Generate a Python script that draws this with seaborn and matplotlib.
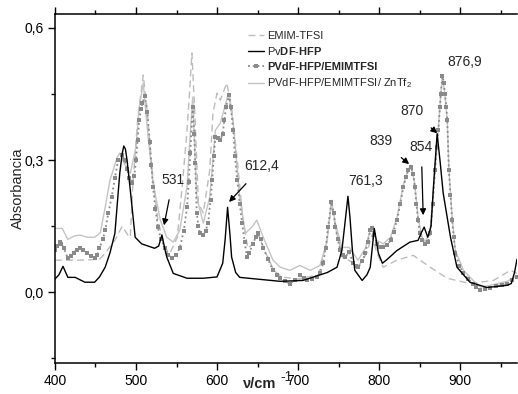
import matplotlib
matplotlib.use("Agg")
import matplotlib.pyplot as plt
import seaborn as sns
from matplotlib.ticker import MultipleLocator

# EMIM-TFSI (dashed)
x_emim = [400, 430, 455, 462, 474, 483, 490, 493, 496, 502, 509, 514, 520, 527, 536, 542,
          551, 557, 563, 566, 569, 573, 577, 583, 591, 595, 600, 604, 612, 618, 625, 632,
          638, 644, 651, 660, 670, 680, 700, 725, 735, 741, 747, 755, 765, 775, 785, 791,
          797, 805, 822, 842, 863, 884, 912, 941, 962, 970]
y_emim = [0.073, 0.073, 0.075, 0.089, 0.118, 0.15, 0.13, 0.125, 0.24, 0.39, 0.493, 0.407,
          0.277, 0.164, 0.1, 0.089, 0.125, 0.24, 0.368, 0.45, 0.543, 0.39, 0.202, 0.18,
          0.277, 0.407, 0.452, 0.436, 0.475, 0.42, 0.3, 0.164, 0.1, 0.11, 0.13, 0.09, 0.05,
          0.035, 0.03, 0.04, 0.11, 0.2, 0.14, 0.08, 0.07, 0.06, 0.09, 0.13, 0.09, 0.057,
          0.073, 0.084, 0.057, 0.032, 0.02, 0.027, 0.05, 0.043]

# PVdF-HFP (black)
x_pvdf = [400, 405, 410, 416, 425, 437, 449, 455, 462, 468, 474, 480, 483, 485, 487, 489,
          493, 499, 507, 515, 523, 528, 532, 536, 538, 546, 563, 583, 600, 607, 610, 613,
          616, 618, 623, 628, 650, 678, 706, 736, 748, 754, 758, 761.5, 764, 767, 770, 779,
          785, 789, 794, 799, 804, 810, 822, 838, 848, 852, 855.5, 860, 864, 867, 871.5,
          875, 879, 888, 896, 912, 933, 958, 963, 967, 970]
y_pvdf = [0.03, 0.04, 0.059, 0.034, 0.034, 0.023, 0.023, 0.035, 0.057, 0.09, 0.134, 0.27,
          0.315, 0.332, 0.325, 0.3, 0.232, 0.125, 0.11, 0.105, 0.1, 0.105, 0.13, 0.095,
          0.08, 0.043, 0.032, 0.032, 0.035, 0.066, 0.12, 0.193, 0.13, 0.08, 0.045, 0.034,
          0.03, 0.025, 0.027, 0.045, 0.057, 0.095, 0.16, 0.218, 0.17, 0.095, 0.05, 0.027,
          0.04, 0.057, 0.145, 0.089, 0.066, 0.075, 0.095, 0.114, 0.118, 0.135, 0.148, 0.125,
          0.15, 0.24, 0.36, 0.3, 0.225, 0.125, 0.057, 0.023, 0.011, 0.016, 0.02, 0.045, 0.075]

# PVdF-HFP/EMIMTFSI (dotted with squares)
x_gel = [400, 403, 406, 408, 411, 416, 420, 423, 427, 431, 435, 440, 445, 449, 452, 455,
         459, 462, 466, 470, 474, 478, 483, 486, 489, 492, 495, 498, 500, 502, 504, 506,
         508, 511, 514, 517, 519, 521, 524, 527, 531, 536, 540, 544, 549, 554, 559, 563,
         565, 567, 570, 572, 573, 575, 577, 579, 583, 586, 589, 592, 594, 596, 598, 601,
         604, 607, 609, 611, 615, 617, 620, 622, 625, 628, 631, 634, 637, 640, 644, 648,
         651, 654, 657, 663, 669, 674, 678, 684, 690, 696, 702, 707, 711, 717, 723, 727,
         731, 734, 737, 741, 744, 746, 749, 752, 755, 758, 763, 768, 771, 774, 779, 783,
         786, 789, 791, 794, 797, 801, 805, 810, 814, 818, 822, 826, 830, 833, 836, 839.5,
         842, 844, 846, 848, 850, 853, 857, 860, 863, 866, 869, 871, 873, 875, 876, 878,
         880, 881, 883, 884, 886, 888, 890, 892, 894, 899, 904, 910, 916, 920, 925, 931,
         937, 944, 951, 958, 964, 970]
y_gel = [0.095, 0.105, 0.114, 0.11, 0.1, 0.077, 0.082, 0.09, 0.097, 0.1, 0.097, 0.09,
         0.082, 0.077, 0.085, 0.1, 0.12, 0.141, 0.18, 0.216, 0.26, 0.3, 0.311, 0.3, 0.28,
         0.26, 0.248, 0.265, 0.3, 0.345, 0.39, 0.415, 0.43, 0.445, 0.41, 0.34, 0.29, 0.24,
         0.19, 0.148, 0.12, 0.1, 0.085, 0.077, 0.085, 0.1, 0.14, 0.193, 0.25, 0.316, 0.42,
         0.36, 0.293, 0.18, 0.15, 0.134, 0.13, 0.14, 0.157, 0.21, 0.255, 0.31, 0.352, 0.35,
         0.345, 0.36, 0.39, 0.42, 0.448, 0.42, 0.368, 0.31, 0.255, 0.2, 0.157, 0.115, 0.08,
         0.09, 0.11, 0.125, 0.134, 0.12, 0.1, 0.075, 0.05, 0.04, 0.032, 0.025, 0.02, 0.028,
         0.039, 0.032, 0.027, 0.03, 0.034, 0.045, 0.066, 0.1, 0.148, 0.205, 0.18, 0.148,
         0.12, 0.095, 0.085, 0.08, 0.091, 0.066, 0.06, 0.057, 0.07, 0.089, 0.115, 0.141,
         0.145, 0.13, 0.11, 0.104, 0.102, 0.108, 0.118, 0.138, 0.164, 0.2, 0.24, 0.262,
         0.277, 0.284, 0.268, 0.24, 0.2, 0.164, 0.135, 0.118, 0.11, 0.115, 0.134, 0.2,
         0.277, 0.33, 0.368, 0.42, 0.45, 0.49, 0.475, 0.45, 0.42, 0.39, 0.277, 0.22, 0.164,
         0.125, 0.089, 0.06, 0.043, 0.03, 0.02, 0.012, 0.005, 0.007, 0.011, 0.014, 0.016,
         0.02, 0.027, 0.034]

# PVdF-HFP/EMIMTFSI/ZnTf2 (light grey)
x_zn = [400, 409, 416, 424, 431, 440, 449, 456, 462, 468, 477, 480, 486, 493, 500, 504,
        509, 515, 521, 530, 538, 546, 554, 563, 567, 570, 573, 575, 583, 591, 598, 604,
        608, 614, 620, 628, 635, 643, 649, 657, 669, 678, 690, 702, 715, 727, 736, 741,
        746, 754, 763, 774, 783, 789, 791, 797, 805, 814, 822, 830, 836, 839.5, 844, 848,
        853, 857, 863, 869, 873, 876, 878, 881, 884, 886, 890, 894, 904, 916, 925, 937,
        958, 970]
y_zn = [0.145, 0.145, 0.12, 0.128, 0.13, 0.125, 0.125, 0.135, 0.193, 0.255, 0.307, 0.316,
        0.29, 0.27, 0.33, 0.42, 0.475, 0.352, 0.248, 0.164, 0.125, 0.114, 0.141, 0.24,
        0.36, 0.443, 0.3, 0.216, 0.157, 0.216, 0.368, 0.384, 0.41, 0.452, 0.384, 0.216,
        0.134, 0.148, 0.164, 0.125, 0.073, 0.057, 0.05, 0.061, 0.05, 0.061, 0.118, 0.209,
        0.157, 0.102, 0.102, 0.073, 0.1, 0.141, 0.148, 0.118, 0.11, 0.125, 0.17, 0.245,
        0.28, 0.288, 0.245, 0.17, 0.125, 0.115, 0.14, 0.28, 0.37, 0.45, 0.49, 0.45, 0.39,
        0.28, 0.17, 0.095, 0.05, 0.027, 0.012, 0.016, 0.025, 0.038]

# peak labels: (text, label position, arrow tip or None)
peak_labels = [("531", (545.7, 0.255), (534.6, 0.152)),
               ("612,4", (655.6, 0.286), (614.8, 0.205)),
               ("761,3", (782.7, 0.252), None),
               ("839", (802.5, 0.343), (837, 0.291)),
               ("854", (851.9, 0.33), (854.3, 0.175)),
               ("870", (840.7, 0.411), (871.6, 0.361)),
               ("876,9", (905, 0.523), None)]

sns.set_style("ticks")
plt.rcParams["font.family"] = ["Liberation Sans", "DejaVu Sans"]
plt.rcParams["mathtext.fontset"] = "custom"
plt.rcParams["mathtext.rm"] = "Liberation Sans"
plt.rcParams["mathtext.it"] = "Liberation Sans:italic"
plt.rcParams["mathtext.bf"] = "Liberation Sans:bold"

fig = plt.figure(figsize=(5.18, 3.94), dpi=100)
ax = fig.add_axes([0.106, 0.079, 0.892, 0.886])

sns.lineplot(x=x_emim, y=y_emim, ax=ax, color="#bcbcbc", linestyle=(0, (5, 3)),
             linewidth=1.0, sort=False, estimator=None, label="EMIM-TFSI")
sns.lineplot(x=x_zn, y=y_zn, ax=ax, color="#c4c4c4", linewidth=1.0, sort=False,
             estimator=None, label="PVdF-HFP/EMIMTFSI/ ZnTf$_2$")
sns.lineplot(x=x_gel, y=y_gel, ax=ax, color="#8a8a8a", linestyle=":", linewidth=1.3,
             marker="s", markersize=3.0, markeredgewidth=0, sort=False, estimator=None,
             label="PVdF-HFP/EMIMTFSI")
sns.lineplot(x=x_pvdf, y=y_pvdf, ax=ax, color="black", linewidth=1.0, sort=False,
             estimator=None, label=r"Pv$\mathbf{DF}$-$\mathbf{HFP}$")

for txt, pos, tip in peak_labels:
    if tip is None:
        ax.text(pos[0], pos[1], txt, fontsize=10, ha="center", va="center")
    else:
        ax.annotate(txt, xy=tip, xytext=pos, fontsize=10, ha="center", va="center",
                    arrowprops=dict(arrowstyle="-|>", color="black", lw=0.9,
                                    mutation_scale=9, shrinkA=7, shrinkB=0))

ax.set_xlim(400, 970)
ax.set_ylim(-0.160, 0.632)
ax.xaxis.set_minor_locator(MultipleLocator(50))
ax.yaxis.set_minor_locator(MultipleLocator(0.15))
ax.set_xticks([400, 500, 600, 700, 800, 900])
ax.set_xticklabels(["400", "500", "600", "700", "800", "900"])
ax.set_yticks([0.0, 0.3, 0.6])
ax.set_yticklabels(["0,0", "0,3", "0,6"])
ax.tick_params(which="both", direction="out", top=True, labelsize=10, width=1.0,
               colors="black")
ax.tick_params(which="major", length=5, pad=3)
ax.tick_params(which="minor", length=3)
for side in ["left", "bottom", "top"]:
    ax.spines[side].set_linewidth(1.1)
    ax.spines[side].set_color("black")
ax.spines["right"].set_visible(False)

ax.set_ylabel("Absorbancia", fontsize=10.5)
ax.yaxis.set_label_coords(-0.064, 0.5)
ax.set_xlabel("ν/cm", fontsize=10.5, fontweight="bold")
ax.xaxis.set_label_coords(0.444, -0.04)
ax.text(0.502, -0.04, "-1", transform=ax.transAxes, fontsize=10, ha="center", va="center")

handles, labels = ax.get_legend_handles_labels()
order = [0, 3, 2, 1]
leg = ax.legend([handles[i] for i in order], [labels[i] for i in order],
                loc="upper left", bbox_to_anchor=(0.418, 0.952), frameon=False,
                fontsize=8, handlelength=1.4, handletextpad=0.3, labelspacing=0.42,
                borderpad=0, borderaxespad=0)
leg.get_texts()[2].set_fontweight("bold")

fig.savefig("out.png", dpi=100)
